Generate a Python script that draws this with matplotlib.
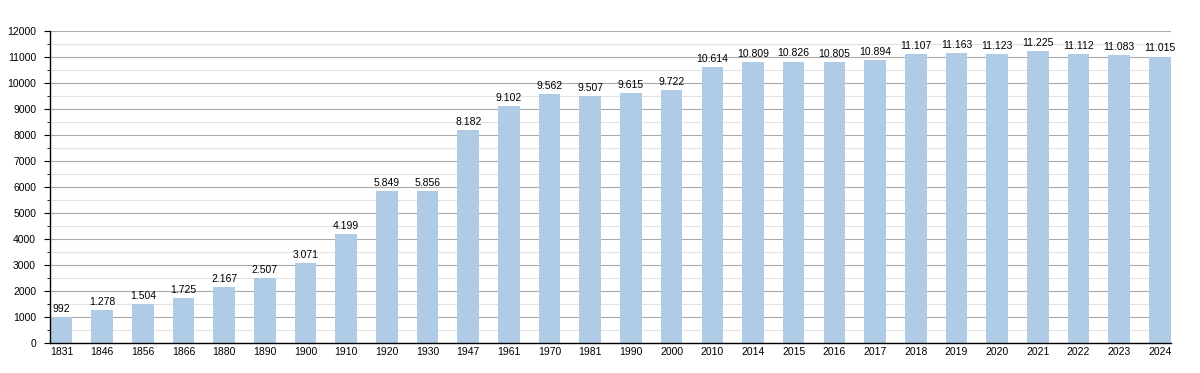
import numpy as np
import matplotlib.pyplot as plt
from matplotlib.ticker import MultipleLocator

# Population data
years = ['1831', '1846', '1856', '1866', '1880', '1890', '1900', '1910', '1920', '1930',
         '1947', '1961', '1970', '1981', '1990', '2000', '2010', '2014', '2015', '2016',
         '2017', '2018', '2019', '2020', '2021', '2022', '2023', '2024']
population = [992, 1278, 1504, 1725, 2167, 2507, 3071, 4199, 5849, 5856,
              8182, 9102, 9562, 9507, 9615, 9722, 10614, 10809, 10826, 10805,
              10894, 11107, 11163, 11123, 11225, 11112, 11083, 11015]

plt.rcParams['font.family'] = ['Liberation Sans', 'DejaVu Sans']

fig = plt.figure(figsize=(12, 3.73), dpi=100)
ax = fig.add_axes([0.0417, 0.0804, 0.9343, 0.8365])

x = np.arange(len(years))
ax.bar(x, population, width=0.53, color='#b0cbe6', zorder=2)

for xi, v in zip(x, population):
    label = f'{v:,}'.replace(',', '.')
    ax.text(xi, v + 120, label, ha='center', va='bottom', fontsize=7.5, color='black', zorder=3)

ax.set_xlim(-0.28, len(years) - 1 + 0.28)
ax.set_ylim(0, 12000)
ax.yaxis.set_major_locator(MultipleLocator(1000))
ax.yaxis.set_minor_locator(MultipleLocator(500))
ax.grid(axis='y', which='major', color='#aaaaaa', linewidth=0.8, zorder=0)
ax.grid(axis='y', which='minor', color='#e2e2e2', linewidth=0.8, zorder=0)
ax.set_axisbelow(True)

ax.set_xticks(x)
ax.set_xticklabels(years)
ax.tick_params(axis='x', length=0, labelsize=7.5, pad=3)
ax.tick_params(axis='y', which='major', length=4, labelsize=7.5, pad=6)
ax.tick_params(axis='y', which='minor', length=2)

for side in ['top', 'right']:
    ax.spines[side].set_visible(False)
ax.spines['left'].set_linewidth(1)
ax.spines['bottom'].set_linewidth(1)

plt.savefig('out.png', dpi=100)
